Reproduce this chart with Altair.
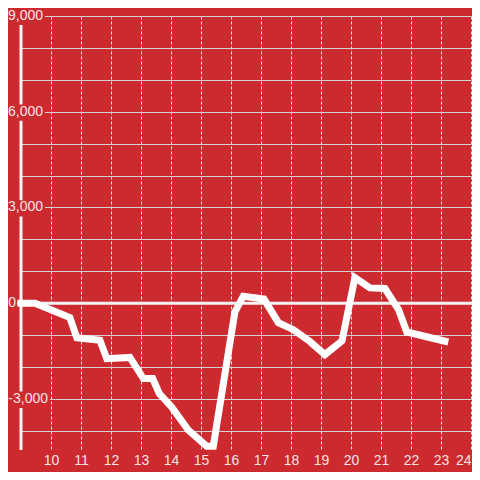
import altair as alt
import pandas as pd

# ---- data ----
hours = [9.0, 9.47, 10.63, 10.86, 11.63, 11.86, 12.63, 13.08, 13.39, 13.61,
         14.02, 14.58, 15.19, 15.41, 16.13, 16.41, 17.1, 17.58, 18.08, 18.63,
         19.13, 19.7, 20.13, 20.63, 21.13, 21.58, 21.86, 23.13]
values = [0, 0, -450, -1080, -1160, -1740, -1700, -2360, -2360, -2830,
          -3250, -3980, -4480, -4480, -270, 220, 130, -610, -830, -1200,
          -1610, -1180, 800, 480, 460, -190, -900, -1190]

x_tick_values = list(range(10, 25))
y_grid_values = list(range(-4000, 9001, 1000))
pos_label_values = [9000, 6000, 3000]
pos_label_texts = ["9,000", "6,000", "3,000"]
neg_label_values = [-3000]
neg_label_texts = ["-3,000"]
zero_values = [0]
zero_texts = ["0"]
axis_start = [9.0]

BG = "#cd2a30"
FONT = "Liberation Sans"
LABEL_COLOR = "#f4e4e4"
LINE_WHITE = "#f4f4f4"

line_df = pd.DataFrame({"hour": hours, "value": values})
pos_df = pd.DataFrame({"value": pos_label_values, "t": pos_label_texts})
neg_df = pd.DataFrame({"value": neg_label_values, "t": neg_label_texts})
zero_df = pd.DataFrame({"value": zero_values, "t": zero_texts})
axis_df = pd.DataFrame({"hour": axis_start})

x_scale = alt.Scale(domain=[9, 24], nice=False, zero=False)
y_scale = alt.Scale(domain=[-4600, 9000], nice=False, zero=False)

x_axis = alt.Axis(values=x_tick_values, grid=True, gridColor="#e8e8e8",
                  gridDash=[3, 2], gridWidth=1, domain=False, ticks=False,
                  labelFontSize=14, labelColor=LABEL_COLOR, labelFont=FONT,
                  labelPadding=3, labelFlush=True, labelOverlap=False, title=None)
y_axis = alt.Axis(values=y_grid_values, grid=True, gridColor="#d2d2d2",
                  gridWidth=1, domain=False, ticks=False, labels=False, title=None)

X = lambda f: alt.X(f, scale=x_scale, axis=x_axis)
Y = lambda f: alt.Y(f, scale=y_scale, axis=y_axis)

axis_rule = alt.Chart(axis_df).mark_rule(color=LINE_WHITE, strokeWidth=3).encode(
    x=X("hour:Q")
)

zero_rule = alt.Chart(zero_df).mark_rule(color=LINE_WHITE, strokeWidth=3).encode(
    y=Y("value:Q"), x=alt.value(-4), x2=alt.value(451)
)


def boxes(df, x_left, x_right):
    return alt.Chart(df).transform_calculate(
        lo="datum.value - 280", hi="datum.value + 230"
    ).mark_rect(color=BG).encode(
        y=Y("lo:Q"), y2="hi:Q", x=alt.value(x_left), x2=alt.value(x_right)
    )


def labels(df, x_right):
    return alt.Chart(df).mark_text(
        align="right", baseline="middle", fontSize=14, font=FONT, color=LABEL_COLOR
    ).encode(y=Y("value:Q"), text="t:N", x=alt.value(x_right))


line = alt.Chart(line_df).mark_line(
    color="white", strokeWidth=7, strokeCap="square", strokeJoin="miter"
).encode(x=X("hour:Q"), y=Y("value:Q"))

chart = alt.layer(
    axis_rule, zero_rule,
    boxes(pos_df, -13, 24), boxes(neg_df, -13, 29), boxes(zero_df, -13, -4),
    labels(pos_df, 22), labels(neg_df, 27), labels(zero_df, -5),
    line,
).properties(
    width=450,
    height=434,
    autosize=alt.AutoSizeParams(type="none"),
    padding={"left": 13, "top": 8, "right": 1, "bottom": 22},
    background=BG,
).configure_view(stroke=None)

chart.save("out.html", embed_options={"renderer": "svg", "actions": False})
